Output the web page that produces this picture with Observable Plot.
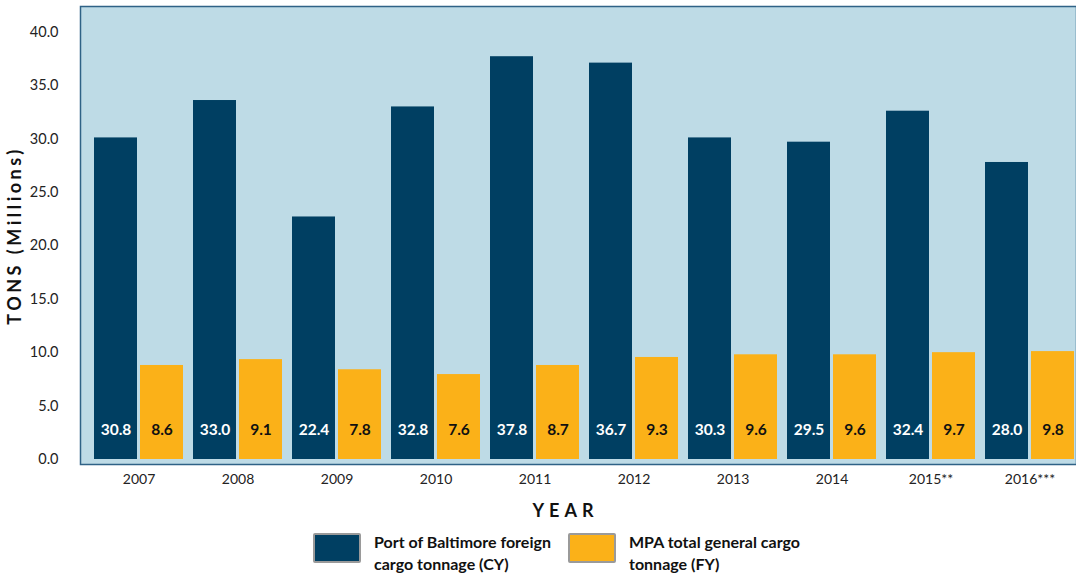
<!DOCTYPE html>
<html>
<head>
<meta charset="utf-8">
<script src="https://cdn.jsdelivr.net/npm/d3@7"></script>
<script src="https://cdn.jsdelivr.net/npm/@observablehq/plot@0.6"></script>
<style>
  html, body { margin: 0; padding: 0; background: #fff; }
  body { width: 1076px; height: 574px; overflow: hidden; font-family: Lato, "Open Sans", sans-serif; }
  #chart svg { display: block; }
  g[aria-label="x-axis label"] text { font-weight: 700; font-size: 18px; letter-spacing: 5px; fill: #111; }
  g[aria-label="y-axis label"] text { font-weight: 700; font-size: 18px; letter-spacing: 3.5px; fill: #111; }
  .legend { position: relative; height: 46px; }
  .item { position: absolute; top: 5px; display: flex; align-items: flex-start; }
  .sw { width: 44px; height: 26px; border: 2px solid #9a9a9a; border-radius: 2px; margin-right: 13px; }
  .lbl { font-weight: 700; font-size: 16px; line-height: 22px; color: #111; margin-top: -2px; }
</style>
</head>
<body>
<div id="chart"></div>
<div class="legend">
  <div class="item" style="left:313px"><div class="sw" id="sw0"></div><div class="lbl">Port of Baltimore foreign<br>cargo tonnage (CY)</div></div>
  <div class="item" style="left:568px"><div class="sw" id="sw1"></div><div class="lbl">MPA total general cargo<br>tonnage (FY)</div></div>
</div>
<script>
const years = ["2007","2008","2009","2010","2011","2012","2013","2014","2015**","2016***"];
// bar heights as drawn in the picture (millions of tons)
const baltimoreBars = [30.1, 33.6, 22.7, 33.0, 37.7, 37.1, 30.1, 29.7, 32.6, 27.8];
const mpaBars = [8.8, 9.35, 8.4, 7.95, 8.8, 9.55, 9.8, 9.8, 10.0, 10.1];
// printed value labels
const baltimoreLabels = ["30.8","33.0","22.4","32.8","37.8","36.7","30.3","29.5","32.4","28.0"];
const mpaLabels = ["8.6","9.1","7.8","7.6","8.7","9.3","9.6","9.6","9.7","9.8"];
const yTicks = [0, 5, 10, 15, 20, 25, 30, 35, 40];
const seriesNames = ["Port of Baltimore foreign cargo tonnage (CY)", "MPA total general cargo tonnage (FY)"];
const colors = ["#003f62", "#fbb118"];

const balt = years.map((y, i) => ({year: y, value: baltimoreBars[i], label: baltimoreLabels[i]}));
const mpa = years.map((y, i) => ({year: y, value: mpaBars[i], label: mpaLabels[i]}));

const half = 46; // inset so the two bars share each year band

const chart = Plot.plot({
  width: 1076,
  height: 528,
  marginLeft: 80,
  marginRight: 0,
  marginTop: 6,
  marginBottom: 64,
  style: {fontFamily: "Lato, 'Open Sans', sans-serif", fontSize: "14px", color: "#222", background: "transparent"},
  x: {domain: years, range: [80, 1088], paddingInner: 0.1, paddingOuter: 0.14, label: "YEAR"},
  y: {domain: [0, 42.4], insetBottom: 5, label: "TONS (Millions)"},
  marks: [
    Plot.frame({fill: "#bedbe6", stroke: "#2f6286", strokeWidth: 1.5}),
    Plot.barY(balt, {x: "year", y: "value", fill: colors[0], insetRight: half}),
    Plot.barY(mpa, {x: "year", y: "value", fill: colors[1], insetLeft: half}),
    Plot.text(balt, {x: "year", y: 0, text: "label", dx: -23, dy: -29, fill: "#fff", fontWeight: "bold", fontSize: 15.5}),
    Plot.text(mpa, {x: "year", y: 0, text: "label", dx: 23, dy: -29, fill: "#111", fontWeight: "bold", fontSize: 15.5}),
    Plot.axisY({ticks: yTicks, tickFormat: d => d.toFixed(1), tickSize: 0, tickPadding: 22, fontSize: 14.5, label: "TONS (Millions)", labelAnchor: "center", labelArrow: "none", labelOffset: 72}),
    Plot.axisX({tickSize: 0, tickPadding: 10, fontSize: 14, label: "YEAR", labelAnchor: "center", labelArrow: "none", labelOffset: 52})
  ]
});
d3.select(chart).select('g[aria-label="x-axis label"] text').attr("dx", -13);
document.getElementById("chart").appendChild(chart);
document.getElementById("sw0").style.background = colors[0];
document.getElementById("sw1").style.background = colors[1];
</script>
</body>
</html>
